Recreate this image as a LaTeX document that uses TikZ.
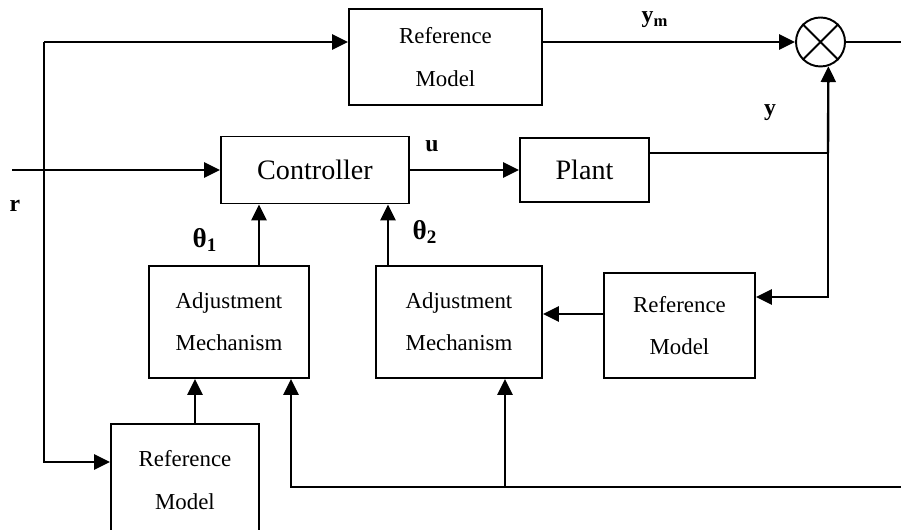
\documentclass[tikz,border=0pt]{standalone}
\usepackage{fontspec}
\setmainfont{Liberation Serif}
\usetikzlibrary{arrows.meta}
\begin{document}
\begin{tikzpicture}[font=\fontsize{13}{24}\selectfont, line width=1.35pt, >={Triangle[length=9pt,width=8.5pt]},
	blk/.style={draw, line width=1.1pt, align=center, inner sep=0pt},
	big/.style={font=\fontsize{16}{19}\selectfont},
	lbl/.style={font=\fontsize{13.5}{15}\selectfont\bfseries}]
	\useasboundingbox (0,0) rectangle (18.02,10.6);
	\clip (0,0) rectangle (18.02,10.6);
	% blocks
	\node[blk, minimum width=3.86cm, minimum height=1.92cm] (refTop) at (8.91,9.46) {Reference\\Model};
	\node[blk, big, minimum width=3.76cm, minimum height=1.34cm] (ctrl) at (6.3,7.2) {Controller};
	\node[blk, big, minimum width=2.58cm, minimum height=1.28cm] (plant) at (11.69,7.2) {Plant};
	\node[blk, minimum width=3.2cm, minimum height=2.24cm] (adj1) at (4.58,4.16) {Adjustment\\Mechanism};
	\node[blk, minimum width=3.32cm, minimum height=2.24cm] (adj2) at (9.18,4.16) {Adjustment\\Mechanism};
	\node[blk, minimum width=3.02cm, minimum height=2.1cm] (refRight) at (13.59,4.09) {Reference\\Model};
	\node[blk, minimum width=2.96cm, minimum height=2.24cm] (refBot) at (3.7,1.0) {Reference\\Model};
	\node[draw, circle, line width=1.1pt, minimum size=.98cm, inner sep=0pt] (sum) at (16.41,9.76) {};
	\draw[line width=1.1pt] (sum.north west)--(sum.south east) (sum.north east)--(sum.south west);
	% points
	\coordinate (rin) at (0.24,7.2);
	\coordinate (ctop) at (0.88,9.76);
	\coordinate (cbot) at (0.88,1.36);
	\coordinate (yj) at (16.56,7.54);
	\coordinate (yr) at (16.56,4.66);
	\coordinate (eout) at (18.02,9.76);
	\coordinate (fend) at (18.02,0.86);
	\coordinate (fb) at (5.82,0.86);
	\coordinate (fm) at (10.1,0.86);
	% connectors
	\draw[->](rin)--(ctrl.west);
	\draw[->](ctop)--(ctop-|refTop.west);
	\draw[->](ctop)--(cbot)--(cbot-|refBot.west);
	\draw[->](refTop.east|-sum)--(sum.west);
	\draw(sum.east)--(eout);
	\draw[->](ctrl.east)--(plant.west);
	\draw(plant.east|-yj)--(yj);
	\draw[->](yj)--(sum.-72);
	\draw[->](yj)--(yr)--(yr-|refRight.east);
	\draw[->]([yshift=.23cm]refRight.west)--([yshift=.23cm]refRight.west-|adj2.east);
	\draw[->]([xshift=.6cm]adj1.north)--([xshift=.6cm]adj1.north|-ctrl.south);
	\draw[->]([xshift=-1.42cm]adj2.north)--([xshift=-1.42cm]adj2.north|-ctrl.south);
	\draw[->]([xshift=.2cm]refBot.north)--([xshift=.2cm]refBot.north|-adj1.south);
	\draw[->](fend)--(fb)--(fb|-adj1.south);
	\draw[->](fm)--(fm|-adj2.south);
	% labels
	\node[lbl] (rlab) at (0.3,6.48) {r};
	\node[lbl] (ulab) at (8.64,7.68) {u};
	\node[lbl] (ymlab) at (13.1,10.2) {y\textsubscript{m}};
	\node[lbl] (ylab) at (15.4,8.34) {y};
	\node[lbl, font=\fontsize{15.5}{17}\selectfont\bfseries] (th1) at (4.1,5.8) {θ\textsubscript{1}};
	\node[lbl, font=\fontsize{15.5}{17}\selectfont\bfseries] (th2) at (8.5,5.96) {θ\textsubscript{2}};
\end{tikzpicture}
\end{document}
